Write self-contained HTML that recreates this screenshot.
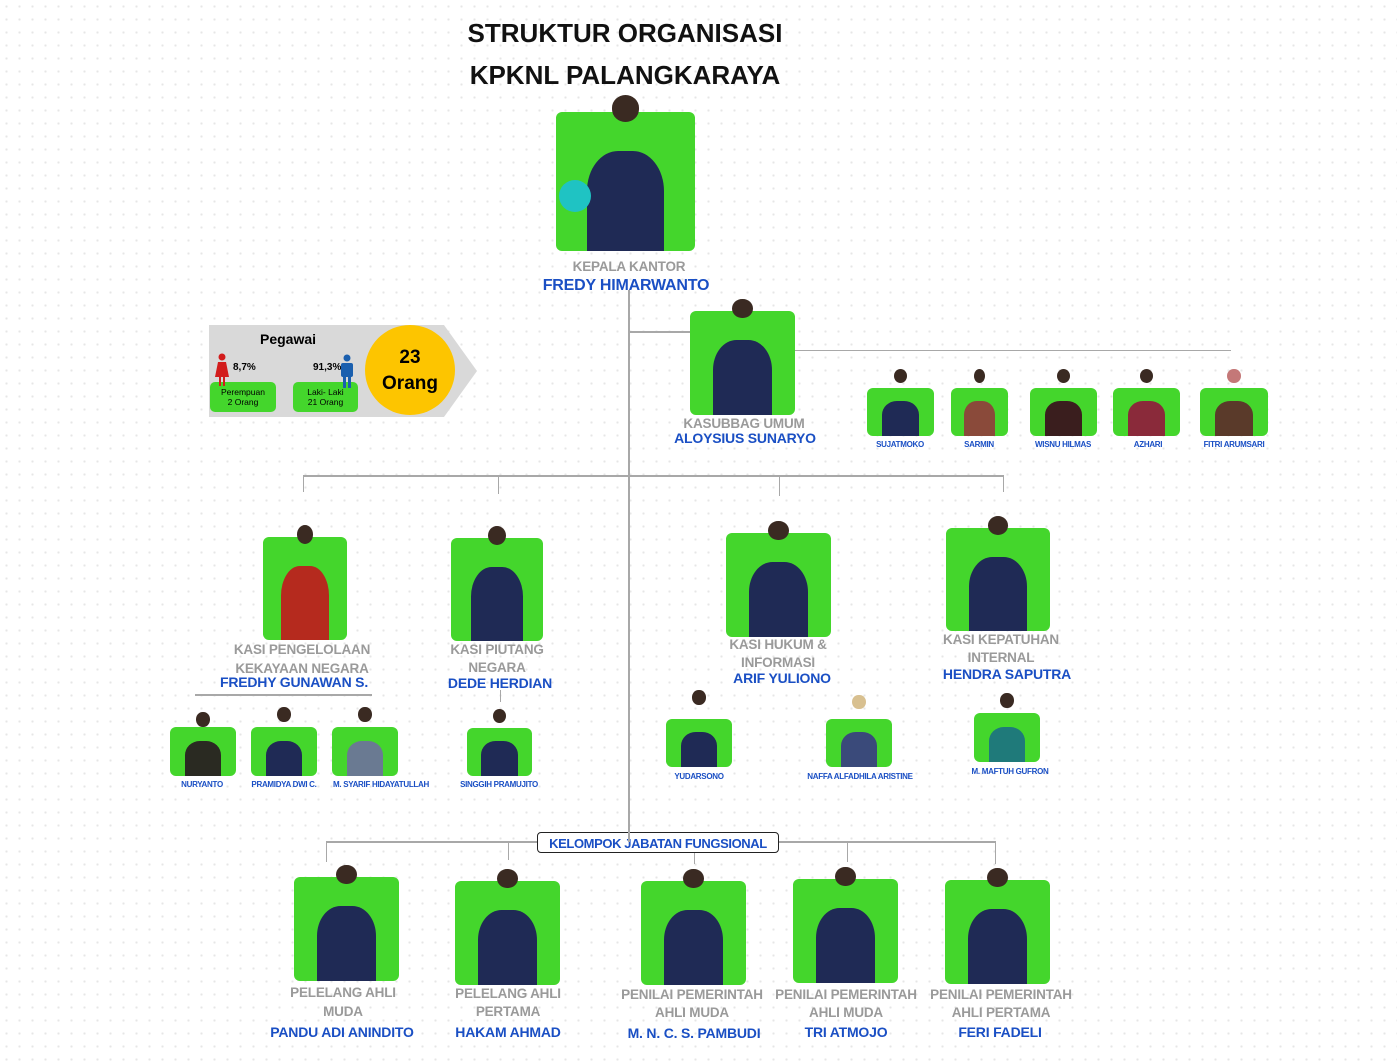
<!DOCTYPE html>
<html><head><meta charset="utf-8"><style>
body{margin:0;width:1397px;height:1061px;position:relative;overflow:hidden;background:#fff;background-image:radial-gradient(#e6e6e6 1px,transparent 1.3px);background-size:13px 13px;font-family:"Liberation Sans",sans-serif}
.a{position:absolute}
.b{position:absolute;background:#44d62c;border-radius:6px}
.b .p{position:absolute;left:22%;width:56%;bottom:0;height:72%;background:#1f2a55;border-radius:40% 40% 0 0}
.b .h{position:absolute;left:40%;width:20%;top:-12%;height:19%;background:#3a2a22;border-radius:50%}
.l{position:absolute;background:#a8a8a8}
.t{position:absolute;text-align:center;color:#9a9a9a;font-weight:bold;font-size:13.5px;line-height:18px;white-space:nowrap;transform:translateX(-50%);letter-spacing:-0.2px}
.n{color:#1a4fc4;font-size:14px}
.s{position:absolute;color:#1a4fc4;font-weight:bold;font-size:8px;white-space:nowrap;transform:translateX(-50%);letter-spacing:-0.3px}
</style></head><body>
<div class="a" style="left:440px;top:12px;width:370px;text-align:center;font-weight:bold;font-size:26px;line-height:42px;color:#111">STRUKTUR ORGANISASI<br>KPKNL PALANGKARAYA</div>

<!-- lines -->
<div class="l" style="left:628px;top:290px;width:2px;height:545px"></div>
<div class="l" style="left:629px;top:331px;width:62px;height:2px"></div>
<div class="l" style="left:795px;top:350px;width:436px;height:1px"></div>
<div class="l" style="left:303px;top:475px;width:701px;height:2px"></div>
<div class="l" style="left:303px;top:476px;width:1px;height:16px"></div>
<div class="l" style="left:498px;top:476px;width:1px;height:18px"></div>
<div class="l" style="left:779px;top:476px;width:1px;height:20px"></div>
<div class="l" style="left:1003px;top:476px;width:1px;height:16px"></div>
<div class="l" style="left:195px;top:694px;width:177px;height:2px"></div>
<div class="l" style="left:500px;top:690px;width:1px;height:12px"></div>
<div class="l" style="left:326px;top:841px;width:670px;height:2px"></div>
<div class="l" style="left:326px;top:842px;width:1px;height:20px"></div>
<div class="l" style="left:508px;top:842px;width:1px;height:18px"></div>
<div class="l" style="left:694px;top:852px;width:1px;height:12px"></div>
<div class="l" style="left:847px;top:842px;width:1px;height:20px"></div>
<div class="l" style="left:995px;top:842px;width:1px;height:22px"></div>

<!-- Pegawai panel -->
<svg class="a" style="left:209px;top:325px" width="270" height="92"><polygon points="0,0 235,0 268,46 235,92 0,92" fill="#d9d9d9"/></svg>
<div class="a" style="left:260px;top:331px;font-weight:bold;font-size:14px">Pegawai</div>
<div class="a" style="left:233px;top:362px;font-weight:bold;font-size:10px">8,7%</div>
<div class="a" style="left:313px;top:362px;font-weight:bold;font-size:10px">91,3%</div>
<div class="a" style="left:210px;top:382px;width:66px;height:30px;background:#44d62c;border-radius:5px;font-size:8.5px;text-align:center;line-height:10px;padding-top:5px;box-sizing:border-box">Perempuan<br>2 Orang</div>
<div class="a" style="left:293px;top:382px;width:65px;height:30px;background:#44d62c;border-radius:5px;font-size:8.5px;text-align:center;line-height:10px;padding-top:5px;box-sizing:border-box">Laki- Laki<br>21 Orang</div>
<svg class="a" style="left:214px;top:353px" width="16" height="34"><circle cx="8" cy="4" r="3.5" fill="#d21c1c"/><polygon points="4,9 12,9 15,24 1,24" fill="#d21c1c"/><rect x="5" y="23" width="2" height="10" fill="#d21c1c"/><rect x="9" y="23" width="2" height="10" fill="#d21c1c"/></svg>
<svg class="a" style="left:339px;top:354px" width="16" height="34"><circle cx="8" cy="4" r="3.5" fill="#1a5fae"/><rect x="2" y="9" width="12" height="14" rx="2" fill="#1a5fae"/><rect x="4" y="22" width="3" height="12" fill="#1a5fae"/><rect x="9" y="22" width="3" height="12" fill="#1a5fae"/></svg>
<div class="a" style="left:365px;top:325px;width:90px;height:90px;border-radius:50%;background:#fdc500;text-align:center;font-weight:bold;font-size:19px;line-height:26px;padding-top:20px;box-sizing:border-box">23<br>Orang</div>

<!-- top -->
<div class="b" style="left:556px;top:112px;width:139px;height:139px"><div class="p"></div><div class="h"></div></div>
<div class="a" style="left:559px;top:180px;width:32px;height:32px;border-radius:50%;background:#1fc3c3"></div>
<div class="t" style="left:629px;top:258px">KEPALA KANTOR</div>
<div class="t n" style="left:626px;top:277px;font-size:16px">FREDY HIMARWANTO</div>

<div class="b" style="left:690px;top:311px;width:105px;height:104px"><div class="p"></div><div class="h"></div></div>
<div class="t" style="left:744px;top:415px">KASUBBAG UMUM</div>
<div class="t n" style="left:745px;top:429px">ALOYSIUS SUNARYO</div>

<div class="b" style="left:867px;top:388px;width:67px;height:48px"><div class="p"></div><div class="h" style="top:-40%;height:30%"></div></div>
<div class="b" style="left:951px;top:388px;width:57px;height:48px"><div class="p" style="background:#8a4a3a"></div><div class="h" style="top:-40%;height:30%"></div></div>
<div class="b" style="left:1030px;top:388px;width:67px;height:48px"><div class="p" style="background:#3a1e1e"></div><div class="h" style="top:-40%;height:30%"></div></div>
<div class="b" style="left:1113px;top:388px;width:67px;height:48px"><div class="p" style="background:#8a2a3a"></div><div class="h" style="top:-40%;height:30%"></div></div>
<div class="b" style="left:1200px;top:388px;width:68px;height:48px"><div class="p" style="background:#5a3a2a"></div><div class="h" style="top:-40%;height:30%;background:#c47878"></div></div>
<div class="s" style="left:900px;top:440px">SUJATMOKO</div>
<div class="s" style="left:979px;top:440px">SARMIN</div>
<div class="s" style="left:1063px;top:440px">WISNU HILMAS</div>
<div class="s" style="left:1148px;top:440px">AZHARI</div>
<div class="s" style="left:1234px;top:440px">FITRI ARUMSARI</div>

<!-- middle -->
<div class="b" style="left:263px;top:537px;width:84px;height:103px"><div class="p" style="background:#b52a1e"></div><div class="h"></div></div>
<div class="t" style="left:302px;top:640px;line-height:19px">KASI PENGELOLAAN<br>KEKAYAAN NEGARA</div>
<div class="t n" style="left:294px;top:673px">FREDHY GUNAWAN S.</div>
<div class="b" style="left:451px;top:538px;width:92px;height:103px"><div class="p"></div><div class="h"></div></div>
<div class="t" style="left:497px;top:641px;line-height:18px">KASI PIUTANG<br>NEGARA</div>
<div class="t n" style="left:500px;top:674px">DEDE HERDIAN</div>
<div class="b" style="left:726px;top:533px;width:105px;height:104px"><div class="p"></div><div class="h"></div></div>
<div class="t" style="left:778px;top:636px;line-height:18px">KASI HUKUM &amp;<br>INFORMASI</div>
<div class="t n" style="left:782px;top:669px">ARIF YULIONO</div>
<div class="b" style="left:946px;top:528px;width:104px;height:103px"><div class="p"></div><div class="h"></div></div>
<div class="t" style="left:1001px;top:631px;line-height:18px">KASI KEPATUHAN<br>INTERNAL</div>
<div class="t n" style="left:1007px;top:665px">HENDRA SAPUTRA</div>

<div class="b" style="left:170px;top:727px;width:66px;height:49px"><div class="p" style="background:#2a2a22"></div><div class="h" style="top:-30%;height:30%"></div></div>
<div class="b" style="left:251px;top:727px;width:66px;height:49px"><div class="p"></div><div class="h" style="top:-40%;height:30%"></div></div>
<div class="b" style="left:332px;top:727px;width:66px;height:49px"><div class="p" style="background:#6a7a92"></div><div class="h" style="top:-40%;height:30%"></div></div>
<div class="b" style="left:467px;top:728px;width:65px;height:48px"><div class="p"></div><div class="h" style="top:-40%;height:30%"></div></div>
<div class="s" style="left:202px;top:780px">NURYANTO</div>
<div class="s" style="left:284px;top:780px">PRAMIDYA DWI C.</div>
<div class="s" style="left:381px;top:780px">M. SYARIF HIDAYATULLAH</div>
<div class="s" style="left:499px;top:780px">SINGGIH PRAMUJITO</div>

<div class="b" style="left:666px;top:719px;width:66px;height:48px"><div class="p"></div><div class="h" style="top:-60%;height:30%"></div></div>
<div class="b" style="left:826px;top:719px;width:66px;height:48px"><div class="p" style="background:#3a4a7a"></div><div class="h" style="top:-50%;height:30%;background:#d8c090"></div></div>
<div class="b" style="left:974px;top:713px;width:66px;height:49px"><div class="p" style="background:#1f7a7a"></div><div class="h" style="top:-40%;height:30%"></div></div>
<div class="s" style="left:699px;top:772px">YUDARSONO</div>
<div class="s" style="left:860px;top:772px">NAFFA ALFADHILA ARISTINE</div>
<div class="s" style="left:1010px;top:767px">M. MAFTUH GUFRON</div>

<!-- fungsional -->
<div class="a" style="left:537px;top:832px;width:242px;height:21px;box-sizing:border-box;border:1.5px solid #222;border-radius:4px;background:#fff;color:#1a4fc4;font-weight:bold;font-size:13px;letter-spacing:-0.4px;white-space:nowrap;text-align:center;line-height:19px;padding-top:1px">KELOMPOK JABATAN FUNGSIONAL</div>
<div class="l" style="left:628px;top:832px;width:2px;height:10px"></div>

<div class="b" style="left:294px;top:877px;width:105px;height:104px"><div class="p"></div><div class="h"></div></div>
<div class="b" style="left:455px;top:881px;width:105px;height:104px"><div class="p"></div><div class="h"></div></div>
<div class="b" style="left:641px;top:881px;width:105px;height:104px"><div class="p"></div><div class="h"></div></div>
<div class="b" style="left:793px;top:879px;width:105px;height:104px"><div class="p"></div><div class="h"></div></div>
<div class="b" style="left:945px;top:880px;width:105px;height:104px"><div class="p"></div><div class="h"></div></div>
<div class="t" style="left:343px;top:983px;line-height:19px">PELELANG AHLI<br>MUDA</div>
<div class="t n" style="left:342px;top:1023px">PANDU ADI ANINDITO</div>
<div class="t" style="left:508px;top:985px;line-height:18px">PELELANG AHLI<br>PERTAMA</div>
<div class="t n" style="left:508px;top:1023px">HAKAM AHMAD</div>
<div class="t" style="left:692px;top:986px;line-height:18px">PENILAI PEMERINTAH<br>AHLI MUDA</div>
<div class="t n" style="left:694px;top:1024px">M. N. C. S. PAMBUDI</div>
<div class="t" style="left:846px;top:986px;line-height:18px">PENILAI PEMERINTAH<br>AHLI MUDA</div>
<div class="t n" style="left:846px;top:1023px">TRI ATMOJO</div>
<div class="t" style="left:1001px;top:986px;line-height:18px">PENILAI PEMERINTAH<br>AHLI PERTAMA</div>
<div class="t n" style="left:1000px;top:1023px">FERI FADELI</div>
</body></html>
